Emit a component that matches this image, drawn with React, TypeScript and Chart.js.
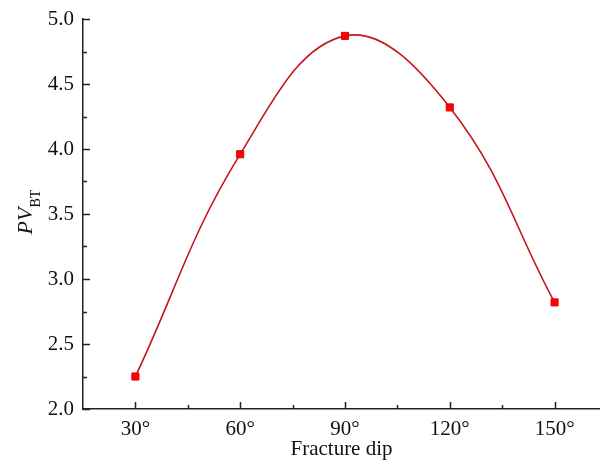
import React, { useEffect, useRef } from "react";
import { Chart, registerables } from "chart.js";

Chart.register(...registerables);

const dips = [30, 60, 90, 120, 150];
const pvBT = [2.25, 3.96, 4.87, 4.32, 2.82];
const xTickValues = [30, 60, 90, 120, 150];
const xMinorValues = [45, 75, 105, 135];
const yTickValues = [2.0, 2.5, 3.0, 3.5, 4.0, 4.5, 5.0];
const yMinorValues = [2.25, 2.75, 3.25, 3.75, 4.25, 4.75];
const xTitle = "Fracture dip";
const yTitleMain = "PV";
const yTitleSub = "BT";

const FONT = "'Liberation Serif', 'DejaVu Serif', serif";

export default function App() {
  const ref = useRef<HTMLCanvasElement | null>(null);

  useEffect(() => {
    if (!ref.current) return;
    const tickPlugin = {
      id: "innerTicks",
      afterDraw(chart: any) {
        const ctx = chart.ctx;
        const xs = chart.scales.x;
        const ys = chart.scales.y;
        const { left, bottom } = chart.chartArea;
        ctx.save();
        ctx.strokeStyle = "#222";
        ctx.lineWidth = 1.5;
        ctx.beginPath();
        xTickValues.forEach((v) => {
          const px = Math.round(xs.getPixelForValue(v)) + 0.5;
          ctx.moveTo(px, bottom);
          ctx.lineTo(px, bottom - 7);
        });
        xMinorValues.forEach((v) => {
          const px = Math.round(xs.getPixelForValue(v)) + 0.5;
          ctx.moveTo(px, bottom);
          ctx.lineTo(px, bottom - 4);
        });
        yTickValues.forEach((v) => {
          const py = Math.round(ys.getPixelForValue(v)) + 0.5;
          ctx.moveTo(left, py);
          ctx.lineTo(left + 7, py);
        });
        yMinorValues.forEach((v) => {
          const py = Math.round(ys.getPixelForValue(v)) + 0.5;
          ctx.moveTo(left, py);
          ctx.lineTo(left + 4, py);
        });
        ctx.stroke();

        // y title with subscript
        ctx.fillStyle = "#111";
        ctx.translate(32, 212);
        ctx.rotate(-Math.PI / 2);
        ctx.textBaseline = "alphabetic";
        ctx.textAlign = "left";
        ctx.font = `italic 22px ${FONT}`;
        const w1 = ctx.measureText(yTitleMain).width;
        ctx.font = `14px ${FONT}`;
        const w2 = ctx.measureText(yTitleSub).width;
        const start = -(w1 + w2) / 2;
        ctx.font = `italic 22px ${FONT}`;
        ctx.fillText(yTitleMain, start, 0);
        ctx.font = `14px ${FONT}`;
        ctx.fillText(yTitleSub, start + w1, 8);
        ctx.restore();
      },
    };

    const chart = new Chart(ref.current, {
      type: "line",
      data: {
        datasets: [
          {
            data: dips.map((d, i) => ({ x: d, y: pvBT[i] })),
            borderColor: "#c4161c",
            borderWidth: 1.6,
            backgroundColor: "#ff0000",
            pointStyle: "rect",
            pointRadius: 5,
            pointBorderColor: "#e00000",
            pointBorderWidth: 1,
            pointBackgroundColor: "#ff0000",
            tension: 0.4,
            fill: false,
            clip: 10,
          },
        ],
      },
      plugins: [tickPlugin],
      options: {
        animation: false,
        responsive: false,
        maintainAspectRatio: false,
        layout: { autoPadding: false, padding: { top: 19, right: 0, left: 0, bottom: 0 } },
        plugins: {
          legend: { display: false },
          tooltip: { enabled: false },
        },
        scales: {
          x: {
            type: "linear",
            min: 15,
            max: 163,
            afterBuildTicks(scale: any) {
              scale.ticks = xTickValues.map((v) => ({ value: v }));
            },
            afterFit(scale: any) {
              scale.height = 53;
              scale.paddingRight = 0;
              scale.paddingLeft = 0;
            },
            grid: { display: false, drawTicks: false },
            border: { display: true, color: "#222", width: 1.5 },
            ticks: {
              color: "#111",
              font: { family: FONT, size: 21 },
              padding: 8,
              maxRotation: 0,
              callback: (v: any) => `${v}°`,
            },
            title: {
              display: true,
              text: xTitle,
              color: "#111",
              font: { family: FONT, size: 21 },
              padding: { top: -4, bottom: 0 },
            },
          },
          y: {
            type: "linear",
            min: 2.0,
            max: 5.0,
            afterBuildTicks(scale: any) {
              scale.ticks = yTickValues.map((v) => ({ value: v }));
            },
            afterFit(scale: any) {
              scale.width = 83;
              scale.paddingTop = 0;
              scale.paddingBottom = 0;
            },
            grid: { display: false, drawTicks: false },
            border: { display: true, color: "#222", width: 1.5 },
            ticks: {
              color: "#111",
              font: { family: FONT, size: 21 },
              padding: 9,
              callback: (v: any) => Number(v).toFixed(1),
            },
          },
        },
      },
    });
    return () => chart.destroy();
  }, []);

  return (
    <div style={{ position: "absolute", left: 0, top: 0, width: 600, height: 462, background: "#fff" }}>
      <canvas ref={ref} width={600} height={462} style={{ display: "block" }} />
    </div>
  );
}
